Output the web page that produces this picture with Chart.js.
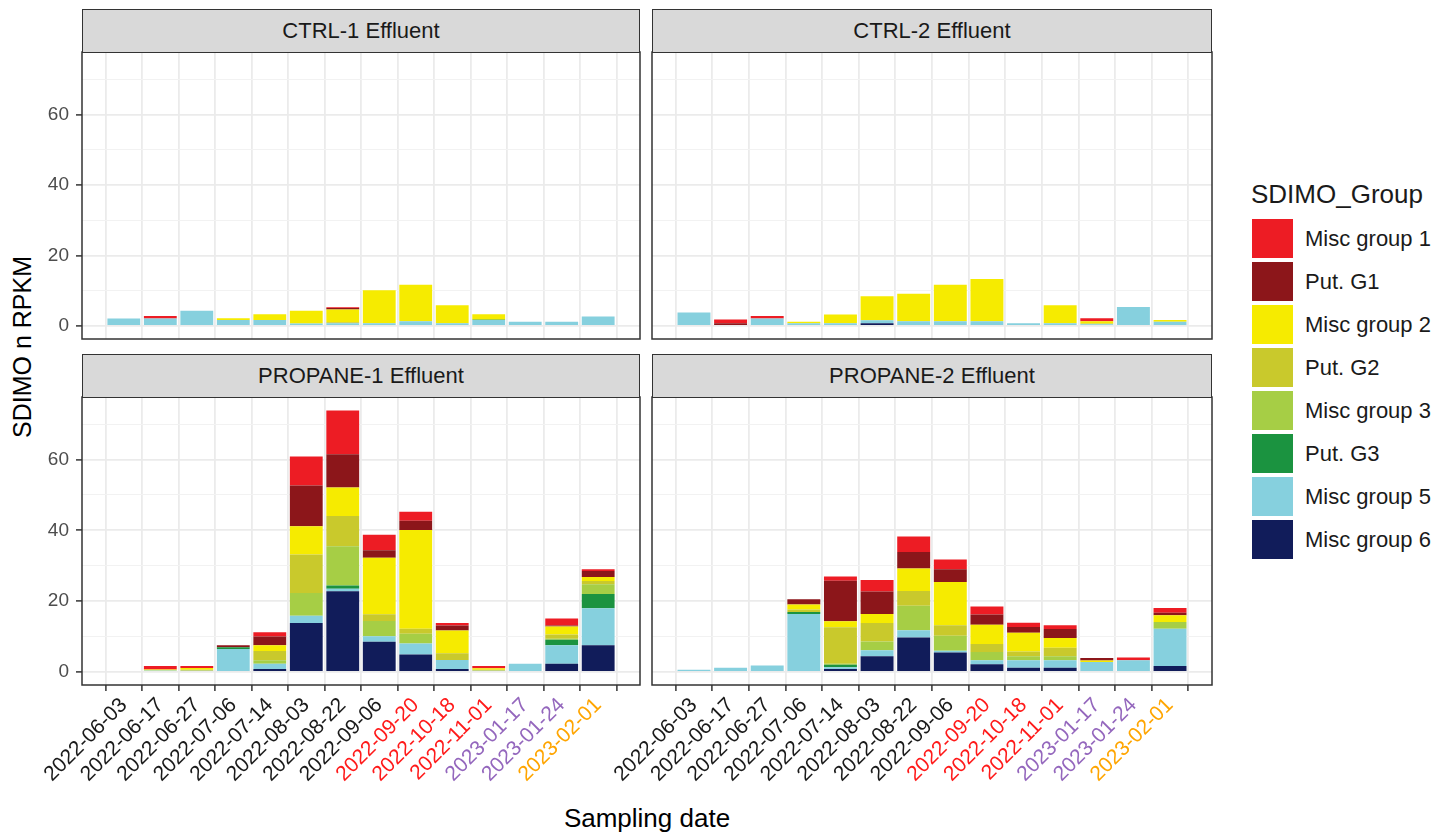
<!DOCTYPE html>
<html>
<head>
<meta charset="utf-8">
<script src="https://cdn.jsdelivr.net/npm/chart.js@4"></script>
<style>
  body { margin: 0; background: #fff; width: 1441px; height: 832px; overflow: hidden; position: relative;
         font-family: "Liberation Sans", Arial, sans-serif; }
  canvas { position: absolute; }
  .strip { position: absolute; background: #d9d9d9; border: 1.5px solid #333; box-sizing: border-box;
           color: #1a1a1a; font-size: 22px; display: flex; align-items: center; justify-content: center; }
  .txt { position: absolute; color: #000; white-space: nowrap; }
  .key { position: absolute; width: 41px; height: 39px; }
  .keyLabel { position: absolute; font-size: 22px; color: #1a1a1a; white-space: nowrap; }
</style>
</head>
<body>

<div class="txt" style="left:22px; top:347px; font-size:25px; transform:translate(-50%,-50%) rotate(-90deg);">SDIMO n RPKM</div>
<div class="txt" style="left:647px; top:818px; font-size:26px; transform:translate(-50%,-50%);">Sampling date</div>
<div class="txt" style="left:1251px; top:179px; font-size:26px; color:#1a1a1a;">SDIMO_Group</div>
<div id="legend"></div>

<script>
// Sampling dates (x axis)
const dates = ['2022-06-03', '2022-06-17', '2022-06-27', '2022-07-06', '2022-07-14', '2022-08-03', '2022-08-22',
               '2022-09-06', '2022-09-20', '2022-10-18', '2022-11-01', '2023-01-17', '2023-01-24', '2023-02-01'];
const dateColors = ['#1a1a1a', '#1a1a1a', '#1a1a1a', '#1a1a1a', '#1a1a1a', '#1a1a1a', '#1a1a1a',
                    '#1a1a1a', '#ff1a1a', '#ff1a1a', '#ff1a1a', '#9467bd', '#9467bd', '#ffa500'];

// SDIMO groups, legend order (top of the stack first)
const groups = ['Misc group 1', 'Put. G1', 'Misc group 2', 'Put. G2', 'Misc group 3', 'Put. G3', 'Misc group 5', 'Misc group 6'];
const groupColors = ['#ed1c24', '#8c161a', '#f6eb00', '#c9c92c', '#a6ce45', '#1b9340', '#86d0de', '#111c5a'];

// y axis
const yTicks = [0, 20, 40, 60];
const yGrid = [0, 10, 20, 30, 40, 50, 60, 70];

// values per panel, one row per group (same order as groups)
const ctrl1 = [
  [0, 0.7, 0, 0, 0, 0, 0.2, 0, 0, 0, 0, 0, 0, 0],
  [0, 0, 0, 0, 0, 0, 0.45, 0, 0, 0, 0, 0, 0, 0],
  [0, 0, 0, 0.5, 1.6, 3.6, 3.6, 9.35, 10.4, 5.1, 1.3, 0, 0, 0],
  [0, 0, 0, 0, 0, 0, 0.3, 0, 0, 0, 0, 0, 0, 0],
  [0, 0, 0, 0, 0, 0, 0, 0, 0, 0, 0.3, 0, 0, 0],
  [0, 0, 0, 0, 0, 0, 0, 0, 0, 0, 0, 0, 0, 0],
  [2.1, 2.1, 4.3, 1.7, 1.7, 0.7, 0.75, 0.75, 1.3, 0.75, 1.7, 1.2, 1.2, 2.7],
  [0, 0, 0, 0, 0, 0, 0, 0, 0, 0, 0, 0, 0, 0]
];
const ctrl2 = [
  [0, 1.0, 0.75, 0, 0, 0, 0, 0, 0, 0, 0, 0.85, 0, 0],
  [0, 0.5, 0, 0, 0, 0, 0, 0, 0, 0, 0, 0, 0, 0],
  [0, 0, 0, 0.45, 2.5, 6.8, 7.8, 10.4, 12.0, 0, 5.1, 0.65, 0, 0.5],
  [0, 0, 0, 0, 0, 0, 0, 0, 0, 0, 0, 0.2, 0, 0],
  [0, 0, 0, 0, 0, 0, 0, 0, 0, 0, 0, 0, 0, 0],
  [0, 0, 0, 0, 0, 0, 0, 0, 0, 0, 0, 0, 0, 0],
  [3.8, 0.3, 2.1, 0.75, 0.75, 0.9, 1.3, 1.3, 1.3, 0.75, 0.75, 0.5, 5.4, 1.2],
  [0, 0, 0, 0, 0, 0.75, 0, 0, 0, 0, 0, 0, 0, 0]
];
const propane1 = [
  [0, 1.0, 0.6, 0, 1.2, 8.2, 12.4, 4.4, 2.6, 0.7, 0.7, 0, 2.0, 0.5],
  [0, 0, 0, 0.5, 2.5, 11.5, 9.4, 2.1, 2.6, 1.4, 0, 0, 0.3, 1.7],
  [0, 0.3, 0.5, 0, 1.6, 8.0, 8.0, 16.0, 27.9, 6.4, 0.4, 0, 2.2, 1.1],
  [0, 0, 0.3, 0, 2.6, 10.9, 8.6, 1.9, 1.4, 1.9, 0.3, 0, 1.2, 0.9],
  [0, 0, 0, 0, 1.0, 6.4, 11.1, 4.3, 2.8, 0, 0, 0, 0.3, 2.8],
  [0, 0, 0, 0.5, 0, 0, 0.9, 0, 0, 0, 0, 0, 1.6, 4.0],
  [0, 0.4, 0.3, 6.5, 1.5, 2.1, 0.7, 1.6, 3.1, 2.6, 0.3, 2.3, 5.2, 10.5],
  [0, 0, 0, 0, 0.8, 13.8, 22.8, 8.5, 4.9, 0.8, 0, 0, 2.3, 7.5]
];
const propane2 = [
  [0, 0, 0, 0, 1.2, 3.3, 4.4, 2.8, 2.3, 1.2, 1.1, 0, 0.75, 1.3],
  [0, 0, 0, 1.5, 11.5, 6.3, 4.7, 3.6, 2.9, 1.6, 2.5, 0.75, 0, 0.75],
  [0, 0, 0, 1.4, 1.7, 2.6, 6.3, 12.2, 5.4, 5.3, 2.8, 0.4, 0, 1.9],
  [0, 0, 0, 0.75, 10.3, 5.2, 4.2, 3.0, 2.3, 1.4, 2.4, 0, 0, 0],
  [0, 0, 0, 0, 0.3, 2.5, 6.9, 4.2, 2.3, 1.1, 1.1, 0, 0, 1.9],
  [0, 0, 0, 0.5, 0.7, 0, 0, 0, 0, 0, 0, 0, 0, 0],
  [0.6, 1.2, 1.8, 16.4, 0.5, 1.7, 2.1, 0.5, 1.1, 2.1, 2.1, 2.8, 3.3, 10.5],
  [0, 0, 0, 0, 0.8, 4.4, 9.7, 5.5, 2.2, 1.2, 1.2, 0, 0, 1.7]
];

const fontFamily = '"Liberation Sans", Arial, sans-serif';

// panel boxes on the page (plot area only)
const panels = [
  { title: 'CTRL-1 Effluent',    values: ctrl1,    left: 82,  top: 52,  right: 640,  bottom: 339, yAxis: true,  xAxis: false },
  { title: 'CTRL-2 Effluent',    values: ctrl2,    left: 652, top: 52,  right: 1212, bottom: 339, yAxis: false, xAxis: false },
  { title: 'PROPANE-1 Effluent', values: propane1, left: 82,  top: 397, right: 640,  bottom: 685, yAxis: true,  xAxis: true },
  { title: 'PROPANE-2 Effluent', values: propane2, left: 652, top: 397, right: 1212, bottom: 685, yAxis: false, xAxis: true }
];

// draws the dark panel border round the plot area
const frame = {
  id: 'frame',
  afterDraw(chart) {
    const { ctx, chartArea: a } = chart;
    ctx.save();
    ctx.strokeStyle = '#333';
    ctx.lineWidth = 1.5;
    ctx.strokeRect(a.left, a.top, a.right - a.left, a.bottom - a.top);
    ctx.restore();
  }
};

panels.forEach(function(p) {
  const padL = p.yAxis ? 30 : (p.xAxis ? 90 : 10);
  const yw = p.yAxis ? 52 : 0;
  const xh = p.xAxis ? 110 : 0;
  const padT = 20, padR = 10, padB = p.xAxis ? 0 : 20;

  const canvas = document.createElement('canvas');
  const w = (p.right - p.left) + padL + yw + padR;
  const h = (p.bottom - p.top) + padT + padB + xh;
  canvas.width = w;
  canvas.height = h;
  canvas.style.left = (p.left - padL - yw) + 'px';
  canvas.style.top = (p.top - padT) + 'px';
  document.body.appendChild(canvas);

  // strip with the panel title
  const strip = document.createElement('div');
  strip.className = 'strip';
  strip.style.left = p.left + 'px';
  strip.style.top = (p.top - 43) + 'px';
  strip.style.width = (p.right - p.left) + 'px';
  strip.style.height = '44px';
  strip.textContent = p.title;
  document.body.appendChild(strip);

  // first dataset is drawn at the bottom of the stack
  const datasets = groups.map((g, k) => ({
    label: g,
    data: p.values[k].map((v, i) => ({ x: i, y: v })),
    backgroundColor: groupColors[k],
    borderWidth: 0,
    categoryPercentage: 0.9,
    barPercentage: 1
  })).reverse();

  new Chart(canvas, {
    type: 'bar',
    data: { datasets: datasets },
    options: {
      responsive: false,
      animation: false,
      devicePixelRatio: 1,
      layout: { padding: { left: padL, right: padR, top: padT, bottom: padB } },
      plugins: { legend: { display: false }, tooltip: { enabled: false } },
      scales: {
        x: {
          type: 'linear',
          stacked: true,
          min: -0.6,
          max: 13.6,
          afterBuildTicks: s => { s.ticks = dates.map((d, i) => ({ value: i })); },
          afterFit: s => { s.height = xh; },
          border: { display: false },
          grid: { color: '#ebebeb', lineWidth: 1.8, drawTicks: p.xAxis, tickLength: 6, tickColor: '#333', tickWidth: 1.5 },
          ticks: {
            display: p.xAxis,
            autoSkip: false,
            minRotation: 45,
            maxRotation: 45,
            padding: 2,
            color: c => dateColors[c.index],
            font: { size: 21, family: fontFamily },
            callback: v => dates[v]
          }
        },
        y: {
          stacked: true,
          min: -3.7,
          max: 77.7,
          afterBuildTicks: s => { s.ticks = yGrid.map(v => ({ value: v })); },
          afterFit: s => { s.width = yw; },
          border: { display: false },
          grid: {
            color: c => yTicks.includes(c.tick.value) ? '#ebebeb' : '#f2f2f2',
            lineWidth: c => yTicks.includes(c.tick.value) ? 1.8 : 1.1,
            drawTicks: p.yAxis,
            tickLength: 6,
            tickWidth: 1.5,
            tickColor: c => yTicks.includes(c.tick.value) ? '#333' : 'rgba(0,0,0,0)'
          },
          ticks: {
            display: p.yAxis,
            padding: 7,
            color: '#4d4d4d',
            font: { size: 19, family: fontFamily },
            callback: v => yTicks.includes(v) ? v : ''
          }
        }
      }
    },
    plugins: [frame]
  });
});

// legend
const legend = document.getElementById('legend');
groups.forEach(function(g, k) {
  const key = document.createElement('div');
  key.className = 'key';
  key.style.left = '1252px';
  key.style.top = (219 + k * 43) + 'px';
  key.style.background = groupColors[k];
  legend.appendChild(key);

  const label = document.createElement('div');
  label.className = 'keyLabel';
  label.style.left = '1305px';
  label.style.top = (219 + k * 43 + 7) + 'px';
  label.textContent = g;
  legend.appendChild(label);
});
</script>
</body>
</html>
